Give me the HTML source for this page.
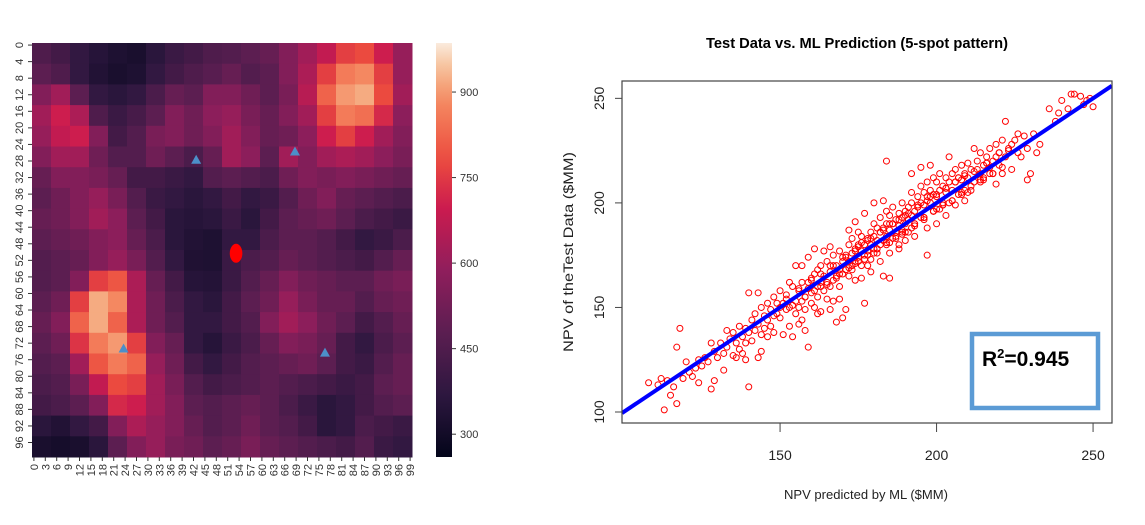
<!DOCTYPE html>
<html><head><meta charset="utf-8"><style>
html,body{margin:0;padding:0;background:#fff;}
svg{display:block;font-family:"Liberation Sans",sans-serif;}
</style></head><body>
<svg id="root" width="1145" height="525" viewBox="0 0 1145 525">
<g id="heat"></g>
<g id="cbar"></g>
<g id="scat"></g>
</svg>
<script>
// ---------- heatmap data (20x20 coarse blocks, each 5x5 grid cells) ----------
const heatRows = [
[450,420,380,350,330,320,360,400,420,450,460,480,500,560,620,680,760,780,700,600],
[480,450,380,340,320,330,380,420,450,470,500,460,480,560,640,760,860,880,760,600],
[560,620,480,380,360,380,440,500,480,560,560,520,480,540,660,820,900,920,780,620],
[620,700,640,450,400,430,480,560,520,580,600,540,500,560,620,760,860,840,720,580],
[600,680,700,560,420,460,540,560,520,560,620,560,500,520,580,700,760,700,620,560],
[560,620,620,520,460,460,520,480,440,500,620,580,480,620,560,620,640,620,580,540],
[500,560,560,540,500,420,420,400,380,460,480,460,440,520,560,540,560,540,520,500],
[480,520,560,600,540,460,400,380,360,380,420,380,400,460,520,560,500,480,460,440],
[500,520,560,620,580,480,420,360,350,360,400,360,420,480,500,520,480,440,420,400],
[480,500,520,560,580,500,440,360,340,330,380,380,440,480,480,460,420,380,400,440],
[460,480,500,560,600,540,460,380,335,330,400,440,460,500,480,460,440,420,460,500],
[460,480,560,760,800,640,500,420,350,345,400,460,500,560,520,500,480,480,520,540],
[480,520,760,920,880,640,520,440,380,360,420,480,520,600,540,500,500,460,500,520],
[500,560,820,920,820,640,520,460,380,380,420,460,560,620,580,520,480,420,460,500],
[480,520,740,860,900,760,560,500,380,350,400,440,500,560,540,500,420,380,440,480],
[460,480,620,800,860,820,600,520,420,380,420,460,480,500,520,480,420,400,460,500],
[440,460,540,680,780,760,620,540,460,420,440,460,480,460,440,420,400,420,480,500],
[420,440,480,560,720,700,620,560,480,460,480,500,480,440,400,360,380,420,460,480],
[360,340,380,420,560,640,600,560,500,460,480,520,480,460,420,360,380,440,420,400],
[320,310,320,360,480,560,600,540,520,480,500,540,500,480,460,440,420,460,400,380]
];
const wellCols = [43.2, 69.2, 24.1, 77.1];
const wellRows = [28.2, 26.2, 73.8, 74.8];
const injCol = [53.7];
const injRow = [50.8];
const cbarTicks = [300,450,600,750,900];
const vMin = 260, vMax = 986;

// ---------- scatter data ----------
const predX = [108,111,112,113,115,116,117,118,117,120,121,122,123,124,125,126,127,128,129,129,130,128,124,119,114,
131,132,133,134,135,135,136,137,137,138,138,139,139,140,140,140,141,141,142,142,143,143,143,144,144,145,145,146,146,147,147,148,148,149,149,150,150,150,136,133,139,144,146,148,132,
151,151,152,152,153,153,154,154,155,155,156,156,157,157,158,158,159,159,160,160,160,161,161,162,162,162,163,163,163,164,164,165,165,165,166,166,167,167,167,168,168,168,169,169,169,170,170,170,155,157,159,161,164,166,156,158,162,166,169,153,
171,171,171,172,172,172,173,173,173,174,174,174,175,175,175,176,176,176,177,177,177,178,178,178,179,179,179,180,180,180,181,181,181,182,182,182,183,183,183,184,184,184,185,185,185,186,186,186,187,187,188,188,188,189,189,189,190,190,190,172,174,177,180,183,176,179,182,185,188,184,
191,191,191,192,192,192,193,193,193,194,194,195,195,195,196,196,197,197,197,198,198,199,199,199,200,200,200,201,201,202,202,203,203,204,204,205,205,206,206,207,207,208,208,209,209,210,210,192,195,198,200,203,206,209,197,
211,212,212,213,214,214,215,215,216,217,217,218,218,219,220,220,221,221,222,222,223,224,224,225,226,226,227,228,229,229,230,231,232,233,219,
236,238,239,240,242,243,244,246,247,248,249,250,
152,154,156,158,160,161,163,165,167,169,171,172,174,175,176,178,179,181,182,184,185,187,188,190,191,193,194,196,197,199,200,202,203,205,206,208,209,211,213,215,216,218,219,221,223,
157,159,163,166,168,170,173,175,177,178,180,183,185,186,189,190,192,194,196,198,201,203,204,207,210,212,214,216,217,220,171,174,177,181,184,187,189,193,196,199,202,205,208,211,214];
const testY = [114,113,116,101,108,112,104,140,131,124,119,117,121,114,122,126,124,111,115,129,126,133,125,116,115,
133,128,131,135,127,138,133,141,130,136,128,125,140,112,157,138,144,134,139,147,157,126,142,137,150,146,140,152,144,141,149,155,138,147,152,145,158,150,126,139,133,129,136,146,120,
152,137,149,156,141,150,160,136,153,147,158,150,144,162,155,149,159,131,152,164,157,166,150,160,168,155,162,170,148,158,165,172,161,154,167,160,175,163,153,170,165,143,168,177,160,172,166,145,170,170,174,178,177,179,142,139,147,149,154,162,
174,168,149,180,172,165,176,170,183,178,171,163,180,174,186,177,170,184,152,180,175,183,177,170,186,180,173,184,178,190,182,176,188,186,180,193,188,182,165,220,190,184,164,187,194,190,183,198,192,186,195,189,180,193,187,200,196,190,182,187,191,195,200,201,164,167,172,176,178,196,
198,192,186,200,194,205,196,190,184,203,198,208,200,193,205,199,175,203,210,206,200,212,204,196,210,203,197,214,206,208,200,212,205,222,210,214,206,216,210,212,204,218,211,214,206,219,212,214,217,218,190,194,199,201,188,
216,226,210,220,214,224,218,212,222,217,226,220,214,228,224,218,230,214,239,222,226,228,216,230,233,224,222,232,211,226,214,233,224,228,209,
245,239,243,249,245,252,252,251,247,249,250,246,
154,151,159,155,163,158,166,162,170,166,175,169,177,172,181,175,183,178,186,181,190,184,192,186,195,189,198,193,201,196,204,199,207,201,210,204,213,206,216,211,219,214,222,217,225,
153,162,160,170,164,174,168,179,173,182,176,187,181,190,185,194,188,199,192,203,197,207,200,212,205,215,210,219,214,224,168,172,173,178,180,183,186,190,193,196,199,201,205,208,211];
const xTicks = [150,200,250];
const yTicks = [100,150,200,250];
const fitLine = [99.5, 256];

const NS = "http://www.w3.org/2000/svg";
function mk(tag, attrs, parent){
  const e = document.createElementNS(NS, tag);
  for (const k in attrs) e.setAttribute(k, attrs[k]);
  parent.appendChild(e);
  return e;
}

// rocket colormap
const stops = [[0,[3,5,26]],[0.15,[45,23,63]],[0.3,[91,30,81]],[0.45,[143,30,92]],[0.6,[203,27,79]],[0.72,[236,76,62]],[0.85,[244,133,95]],[0.93,[246,184,141]],[1,[250,235,221]]];
function rocket(t){
  t=Math.max(0,Math.min(1,t));
  for(let i=1;i<stops.length;i++){
    if(t<=stops[i][0]){
      const a=stops[i-1],b=stops[i],f=(t-a[0])/(b[0]-a[0]);
      return "rgb("+[0,1,2].map(j=>Math.round(a[1][j]+(b[1][j]-a[1][j])*f)).join(",")+")";
    }
  }
  return "rgb(250,235,221)";
}

// ---------- heatmap ----------
const heat = document.getElementById('heat');
const HX0=32, HX1=412, HY0=43, HY1=457;
const nCells=100;
const gx = c => HX0 + c*(HX1-HX0)/nCells;
const gy = r => HY0 + r*(HY1-HY0)/nCells;
const block = nCells/heatRows.length;
heatRows.forEach((row, r) => {
  row.forEach((v, c) => {
    const rect = mk('rect', {x:gx(c*block), y:gy(r*block), width:gx((c+1)*block)-gx(c*block)+0.5, height:gy((r+1)*block)-gy(r*block)+0.5, fill:rocket((v-vMin)/(vMax-vMin))}, heat);
    
    
  });
});
for (let i=0;i<100;i+=4){
  const y = gy(i+0.5);
  const t = mk('line',{x1:HX0-4,x2:HX0,y1:y,y2:y,stroke:'#333','stroke-width':1},heat);
  
  
  const l = mk('text',{x:0,y:0,transform:`translate(23,${y}) rotate(-90)`,'text-anchor':'middle','font-size':11,fill:'#333'},heat);
  l.textContent = i;
  
  
}
for (let i=0;i<100;i+=3){
  const x = gx(i+0.5);
  const t = mk('line',{x1:x,x2:x,y1:HY1,y2:HY1+4,stroke:'#333','stroke-width':1},heat);
  
  
  const l = mk('text',{x:0,y:0,transform:`translate(${x+4},${HY1+7}) rotate(-90)`,'text-anchor':'end','font-size':11,fill:'#333'},heat);
  l.textContent = i;
  
  
}
wellCols.forEach((c,i)=>{
  const x=gx(c), y=gy(wellRows[i]);
  const p = mk('polygon',{points:`${x-5},${y+4} ${x+5},${y+4} ${x},${y-5}`,fill:'#4c8fc9'},heat);
  
  
});
injCol.forEach((c,i)=>{
  const e = mk('ellipse',{cx:gx(c),cy:gy(injRow[i]),rx:6.3,ry:9.5,fill:'#ff0000'},heat);
  
  
});

// ---------- colorbar ----------
const cbar = document.getElementById('cbar');
const CX0=436, CX1=452;
const cy = v => HY1 - (v-vMin)/(vMax-vMin)*(HY1-HY0);
const defs = mk('defs',{},cbar);
const grad = mk('linearGradient',{id:'rk',x1:0,y1:1,x2:0,y2:0},defs);
for(let i=0;i<=20;i++){ mk('stop',{offset:i/20,'stop-color':rocket(i/20)},grad); }
const cb = mk('rect',{x:CX0,y:HY0,width:CX1-CX0,height:HY1-HY0,fill:'url(#rk)'},cbar);


cbarTicks.forEach(v=>{
  const y=cy(v);
  const t=mk('line',{x1:CX1,x2:CX1+4,y1:y,y2:y,stroke:'#333'},cbar);
  
  
  const l=mk('text',{x:CX1+8,y:y+4,'font-size':11,fill:'#333'},cbar);
  l.textContent=v;
  
  
});

// ---------- scatter ----------
const scat = document.getElementById('scat');
const BX0=622, BX1=1112, BY0=81, BY1=423;
const sx = v => 622 + (v-99.5)*3.13;
const sy = v => 412 - (v-100)*2.091;
const title = mk('text',{x:857,y:48,'text-anchor':'middle','font-size':15,'font-weight':'bold',textLength:302,lengthAdjust:'spacingAndGlyphs',fill:'#000'},scat);
title.textContent='Test Data vs. ML Prediction (5-spot pattern)';


const clip = mk('clipPath',{id:'pc'},defs);
mk('rect',{x:BX0,y:BY0,width:BX1-BX0,height:BY1-BY0},clip);
const pts = mk('g',{'clip-path':'url(#pc)'},scat);
predX.forEach((x,i)=>{
  const c=mk('circle',{cx:sx(x),cy:sy(testY[i]),r:3,fill:'none',stroke:'#ff0000','stroke-width':1},pts);
  
  
});
const ln = mk('line',{x1:sx(fitLine[0]),y1:sy(fitLine[0]),x2:sx(fitLine[1]),y2:sy(fitLine[1]),stroke:'#0000ff','stroke-width':4},pts);


const frame = mk('rect',{x:BX0,y:BY0,width:BX1-BX0,height:BY1-BY0,fill:'none',stroke:'#444','stroke-width':1.2},scat);


xTicks.forEach(v=>{
  const x=sx(v);
  const t=mk('line',{x1:x,x2:x,y1:BY1,y2:BY1+9,stroke:'#444'},scat);
  
  
  const l=mk('text',{x:x,y:460,'text-anchor':'middle','font-size':14,fill:'#222'},scat);
  l.textContent=v;
  
  
});
yTicks.forEach(v=>{
  const y=sy(v);
  const t=mk('line',{x1:BX0-7,x2:BX0,y1:y,y2:y,stroke:'#444'},scat);
  
  
  const l=mk('text',{x:0,y:0,transform:`translate(604,${y}) rotate(-90)`,'text-anchor':'middle','font-size':14,fill:'#222'},scat);
  l.textContent=v;
  
  
});
const xl=mk('text',{x:866,y:499,'text-anchor':'middle','font-size':13,textLength:164,lengthAdjust:'spacingAndGlyphs',fill:'#222'},scat);
xl.textContent='NPV predicted by ML ($MM)';


const yl=mk('text',{x:0,y:0,transform:'translate(573,252) rotate(-90)','text-anchor':'middle','font-size':14,textLength:200,lengthAdjust:'spacingAndGlyphs',fill:'#222'},scat);
yl.textContent='NPV of theTest Data ($MM)';


const rb=mk('rect',{x:972,y:334,width:126,height:74,fill:'#fff',stroke:'#5b9bd5','stroke-width':4.5},scat);


const rt=mk('text',{x:982,y:366,'font-size':21,'font-weight':'bold',fill:'#000'},scat);


const t1=mk('tspan',{},rt); t1.textContent='R';
const t2=mk('tspan',{dy:-8,'font-size':13},rt); t2.textContent='2';
const t3=mk('tspan',{dy:8},rt); t3.textContent='=0.945';
</script>
</body></html>
